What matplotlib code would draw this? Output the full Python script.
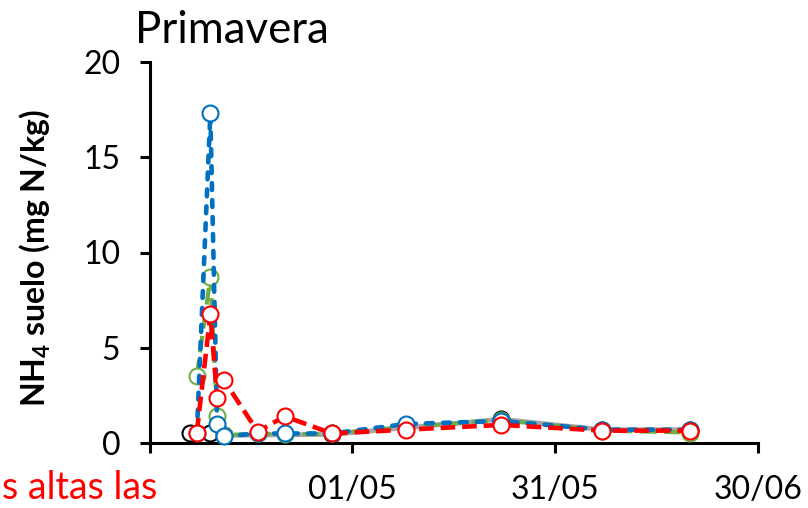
import datetime as dt
import matplotlib
matplotlib.use("Agg")
import matplotlib.pyplot as plt

plt.rcParams["font.family"] = ["Lato", "DejaVu Sans"]
plt.rcParams["mathtext.fontset"] = "custom"
plt.rcParams["mathtext.rm"] = "Lato"
plt.rcParams["mathtext.bf"] = "Lato:bold"

YEAR = 2021

# Sampling dates (day, month) for each treatment
dates_black = [(7, 4), (10, 4), (12, 4), (28, 4), (23, 5), (7, 6), (20, 6)]
nh4_black = [0.5, 0.5, 0.4, 0.45, 1.25, 0.7, 0.7]

dates_green = [(8, 4), (10, 4), (11, 4), (12, 4), (17, 4), (21, 4), (28, 4),
               (9, 5), (23, 5), (7, 6), (20, 6)]
nh4_green = [3.5, 8.7, 1.4, 0.4, 0.5, 0.45, 0.5, 0.85, 1.2, 0.65, 0.55]

dates_blue = [(8, 4), (10, 4), (11, 4), (12, 4), (17, 4), (21, 4), (28, 4),
              (9, 5), (23, 5), (7, 6), (20, 6)]
nh4_blue = [0.5, 17.3, 1.0, 0.35, 0.5, 0.5, 0.5, 1.0, 1.15, 0.7, 0.7]

dates_red = [(8, 4), (10, 4), (11, 4), (12, 4), (17, 4), (21, 4), (28, 4),
             (9, 5), (23, 5), (7, 6), (20, 6)]
nh4_red = [0.55, 6.75, 2.35, 3.3, 0.6, 1.4, 0.5, 0.7, 0.95, 0.65, 0.65]

tick_dates = [(1, 4), (1, 5), (31, 5), (30, 6)]
tick_labels = ["", "01/05", "31/05", "30/06"]
y_ticks = [0, 5, 10, 15, 20]


def to_dates(pairs):
    return [dt.date(YEAR, m, d) for d, m in pairs]


fig = plt.figure(figsize=(8.08, 5.08), dpi=100)
ax = fig.add_axes([149.5 / 808, 1 - 443 / 508, 608.5 / 808, 381 / 508])

ms = 11.5
mew = 1.5

ax.plot(to_dates(dates_black), nh4_black, color="#A6A6A6", lw=3.4,
        marker="o", ms=ms, mfc="white", mec="black", mew=mew, zorder=2)
ax.plot(to_dates(dates_green), nh4_green, color="#70AD47", lw=3.0,
        ls=(0, (4, 1.8)), marker="o", ms=ms, mfc="white", mec="#70AD47",
        mew=mew, zorder=3)
ax.plot(to_dates(dates_blue), nh4_blue, color="#0070C0", lw=3.3,
        ls=(0, (1.5, 2.2)), dash_capstyle="round", marker="o", ms=ms,
        mfc="white", mec="#0070C0", mew=mew, zorder=4)
ax.plot(to_dates(dates_red), nh4_red, color="#FF0000", lw=3.3,
        ls=(0, (3.2, 1.5)), marker="o", ms=ms, mfc="white", mec="#FF0000",
        mew=mew, zorder=5)

ax.set_xlim(dt.date(YEAR, 4, 1), dt.date(YEAR, 6, 30))
ax.set_ylim(0, 20)
ax.set_xticks(to_dates(tick_dates))
ax.set_xticklabels(tick_labels)
ax.set_yticks(y_ticks)

for s in ("top", "right"):
    ax.spines[s].set_visible(False)
for s in ("left", "bottom"):
    ax.spines[s].set_linewidth(2.2)
    ax.spines[s].set_capstyle("projecting")

ax.tick_params(axis="both", direction="out", length=7, width=2.2,
               labelsize=23, colors="black")
ax.tick_params(axis="y", pad=14)
ax.tick_params(axis="x", pad=16)
for line in ax.get_lines():
    line.set_clip_on(False)

fig.text(135 / 808, 1 - 43 / 508, "Primavera", fontsize=31.5,
         ha="left", va="baseline")
fig.text(35 / 808, 1 - 258 / 508, r"NH$_\mathbf{4}$ suelo (mg N/kg)",
         fontsize=23, fontweight="bold", rotation=90, ha="center",
         va="center")
fig.text(157 / 808, 1 - 499 / 508, "s altas las", fontsize=27,
         color="#FF0000", ha="right", va="baseline")

fig.savefig("out.png", dpi=100)
